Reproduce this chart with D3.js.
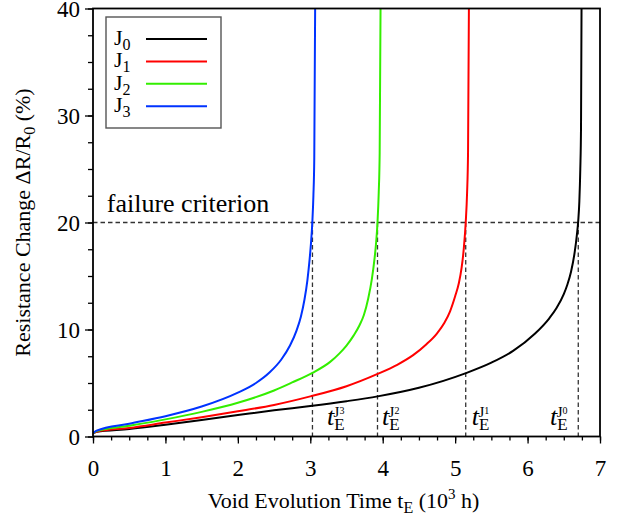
<!DOCTYPE html>
<html>
<head>
<meta charset="utf-8">
<script src="https://cdn.jsdelivr.net/npm/d3@7"></script>
<style>
  body { margin: 0; background: #fff; }
  svg text { font-family: "Liberation Serif", "Times New Roman", "DejaVu Serif", serif; fill: #000; }
</style>
</head>
<body>
<div id="wrapper"></div>
<script>
// Data: [time (10^3 h), resistance change (%)]
const seriesNames = ["0", "1", "2", "3"];
const seriesColors = ["#000000", "#ff0000", "#33ee00", "#0033ff"];

const j0Points = [[0, 0.3], [0.05, 0.45], [0.5, 0.7], [1, 1.1], [1.5, 1.55], [2, 2.0], [2.5, 2.45], [3, 2.85],
    [3.5, 3.3], [3.93, 3.75], [4.5, 4.55], [5.14, 5.9], [5.5, 6.9], [5.8, 8.0], [6.1, 9.6], [6.3, 11.05],
    [6.4, 12.0], [6.5, 13.3], [6.55, 14.2], [6.6, 15.4], [6.65, 17.2], [6.68, 18.8], [6.7, 20.2],
    [6.715, 22], [6.728, 25], [6.738, 29], [6.745, 40]];
const j1Points = [[0, 0.3], [0.05, 0.45], [0.5, 0.8], [1, 1.3], [1.5, 1.8], [2, 2.35], [2.5, 2.95], [3, 3.75],
    [3.5, 4.7], [3.93, 5.85], [4.2, 6.7], [4.42, 7.6], [4.6, 8.6], [4.745, 9.6], [4.85, 10.6], [4.93, 11.7],
    [5.0, 13.1], [5.05, 14.3], [5.09, 15.8], [5.12, 17.6], [5.146, 20], [5.165, 22.8], [5.178, 26.5], [5.19, 40]];
const j2Points = [[0, 0.3], [0.05, 0.5], [0.5, 1.0], [1, 1.6], [1.5, 2.3], [2, 3.15], [2.5, 4.3], [2.75, 5.05],
    [3.03, 5.95], [3.27, 6.95], [3.4, 7.75], [3.5, 8.5], [3.6, 9.45], [3.68, 10.4], [3.74, 11.35], [3.8, 12.9],
    [3.85, 14.7], [3.885, 16.5], [3.91, 18.2], [3.928, 20], [3.945, 22.8], [3.958, 26.5], [3.97, 40]];
const j3Points = [[0, 0.3], [0.05, 0.55], [0.5, 1.2], [1, 1.9], [1.5, 2.8], [2, 4.1], [2.25, 5.0], [2.44, 6.0],
    [2.6, 7.2], [2.72, 8.5], [2.81, 9.9], [2.87, 11.2], [2.92, 12.8], [2.96, 14.6], [2.99, 16.5], [3.01, 18.1],
    [3.028, 20], [3.043, 22.5], [3.055, 26], [3.067, 40]];
const allSeries = [j0Points, j1Points, j2Points, j3Points];

const failureCriterion = 20;
const failureTimes = [6.70, 5.146, 3.928, 3.03];
// where the t_E labels start (time), one per current
const failureLabelTimes = [6.31, 5.23, 3.99, 3.23];

const xTicks = [0, 1, 2, 3, 4, 5, 6, 7];
const yTicks = [0, 10, 20, 30, 40];

// Accessors
const xAccessor = d => d[0];
const yAccessor = d => d[1];

const SERIF = '"Liberation Serif", "Times New Roman", serif';

// Dimensions
const dimensions = {
    width: 618,
    height: 520,
    margin: { top: 8.5, right: 18, bottom: 83.5, left: 93 },
};
dimensions.boundedWidth = dimensions.width - dimensions.margin.left - dimensions.margin.right;
dimensions.boundedHeight = dimensions.height - dimensions.margin.top - dimensions.margin.bottom;

function drawChart() {
    const wrapper = d3.select("#wrapper")
        .append("svg")
        .attr("width", dimensions.width)
        .attr("height", dimensions.height)
        .attr("font-family", SERIF);

    const bounds = wrapper.append("g")
        .attr("transform", `translate(${dimensions.margin.left},${dimensions.margin.top})`);

    // Scales
    const xScale = d3.scaleLinear().domain([0, 7]).range([0, dimensions.boundedWidth]);
    const yScale = d3.scaleLinear().domain([0, 40]).range([dimensions.boundedHeight, 0]);

    bounds.append("clipPath").attr("id", "plot-clip")
        .append("rect")
        .attr("width", dimensions.boundedWidth)
        .attr("height", dimensions.boundedHeight);

    // Failure criterion lines
    const dashed = bounds.append("g")
        .attr("stroke", "#333")
        .attr("stroke-width", 1.3)
        .attr("stroke-dasharray", "4.5,3");
    dashed.append("line")
        .attr("x1", 0).attr("x2", dimensions.boundedWidth)
        .attr("y1", yScale(failureCriterion)).attr("y2", yScale(failureCriterion));
    dashed.selectAll(".drop")
        .data(failureTimes)
        .join("line")
        .attr("x1", d => xScale(d)).attr("x2", d => xScale(d))
        .attr("y1", yScale(failureCriterion)).attr("y2", yScale(0));

    // Curves
    const lineGenerator = d3.line()
        .x(d => xScale(xAccessor(d)))
        .y(d => yScale(yAccessor(d)))
        .curve(d3.curveMonotoneX);
    bounds.append("g")
        .attr("clip-path", "url(#plot-clip)")
        .selectAll("path")
        .data(allSeries)
        .join("path")
        .attr("d", lineGenerator)
        .attr("fill", "none")
        .attr("stroke", (d, i) => seriesColors[i])
        .attr("stroke-width", 2);

    // Axes
    const xAxis = d3.axisBottom(xScale).tickValues(xTicks).tickSize(7).tickPadding(16).tickFormat(d3.format("d"));
    const xMinor = d3.axisBottom(xScale).tickValues(d3.range(0, 7.01, 0.25)).tickSize(4).tickFormat("");
    const yAxis = d3.axisLeft(yScale).tickValues(yTicks).tickSize(8).tickPadding(5).tickFormat(d3.format("d"));
    const yMinor = d3.axisLeft(yScale).tickValues(d3.range(0, 40.01, 2.5)).tickSize(5).tickFormat("");

    const xAxisGroup = bounds.append("g").attr("transform", `translate(0,${dimensions.boundedHeight})`);
    xAxisGroup.append("g").call(xMinor);
    xAxisGroup.append("g").call(xAxis);
    const yAxisGroup = bounds.append("g");
    yAxisGroup.append("g").call(yMinor);
    yAxisGroup.append("g").call(yAxis);

    bounds.selectAll(".domain").remove();
    bounds.selectAll(".tick line").attr("stroke", "#000").attr("stroke-width", 1.3);
    bounds.selectAll(".tick text")
        .attr("font-family", SERIF)
        .style("font-size", "23px")
        .attr("fill", "#000");
    yAxisGroup.selectAll(".tick text").attr("dy", "0.33em");

    // Frame
    bounds.append("rect")
        .attr("width", dimensions.boundedWidth)
        .attr("height", dimensions.boundedHeight)
        .attr("fill", "none")
        .attr("stroke", "#000")
        .attr("stroke-width", 1.8);

    // Axis labels
    const xLabel = wrapper.append("text")
        .attr("x", dimensions.margin.left + dimensions.boundedWidth / 2 - 3)
        .attr("y", 508)
        .attr("text-anchor", "middle")
        .style("font-size", "22px");
    xLabel.append("tspan").text("Void Evolution Time t");
    xLabel.append("tspan").attr("dy", 5).style("font-size", "16px").text("E");
    xLabel.append("tspan").attr("dy", -5).text(" (10");
    xLabel.append("tspan").attr("dy", -9).style("font-size", "15px").text("3");
    xLabel.append("tspan").attr("dy", 9).text(" h)");

    const yLabel = wrapper.append("text")
        .attr("transform", `translate(30,${dimensions.margin.top + dimensions.boundedHeight / 2}) rotate(-90)`)
        .attr("text-anchor", "middle")
        .style("font-size", "22px");
    yLabel.append("tspan").text("Resistance Change ΔR/R");
    yLabel.append("tspan").attr("dy", 5).style("font-size", "16px").text("0");
    yLabel.append("tspan").attr("dy", -5).text(" (%)");

    // failure criterion note
    bounds.append("text")
        .attr("x", xScale(0.19))
        .attr("y", yScale(21.0))
        .style("font-size", "26px")
        .text("failure criterion");

    // t_E labels
    const tLabels = bounds.selectAll(".te")
        .data(failureLabelTimes)
        .join("text")
        .attr("x", d => xScale(d))
        .attr("y", yScale(1.07))
        .style("font-size", "26px");
    tLabels.append("tspan").style("font-style", "italic").text("t");
    tLabels.append("tspan").attr("dy", 5).style("font-size", "17px").text("E");
    tLabels.append("tspan").attr("dx", -11).attr("dy", -13).style("font-size", "15px").text("J");
    tLabels.append("tspan").attr("dy", -3).style("font-size", "10px").text((d, i) => seriesNames[i]);

    // Legend
    const legend = bounds.append("g").attr("transform", "translate(13,8.5)");
    legend.append("rect")
        .attr("width", 115)
        .attr("height", 111)
        .attr("fill", "#fff")
        .attr("stroke", "#555")
        .attr("stroke-width", 1.4);
    const legendItems = legend.selectAll(".item")
        .data(seriesNames)
        .join("g")
        .attr("transform", (d, i) => `translate(0,${22 + i * 22.4})`);
    legendItems.append("line")
        .attr("x1", 40).attr("x2", 101)
        .attr("stroke", (d, i) => seriesColors[i])
        .attr("stroke-width", 2);
    const legendText = legendItems.append("text")
        .attr("x", 8)
        .attr("y", 6)
        .style("font-size", "22px");
    legendText.append("tspan").text("J");
    legendText.append("tspan").attr("dy", 5).style("font-size", "16px").text(d => d);
}
drawChart();
</script>
</body>
</html>
